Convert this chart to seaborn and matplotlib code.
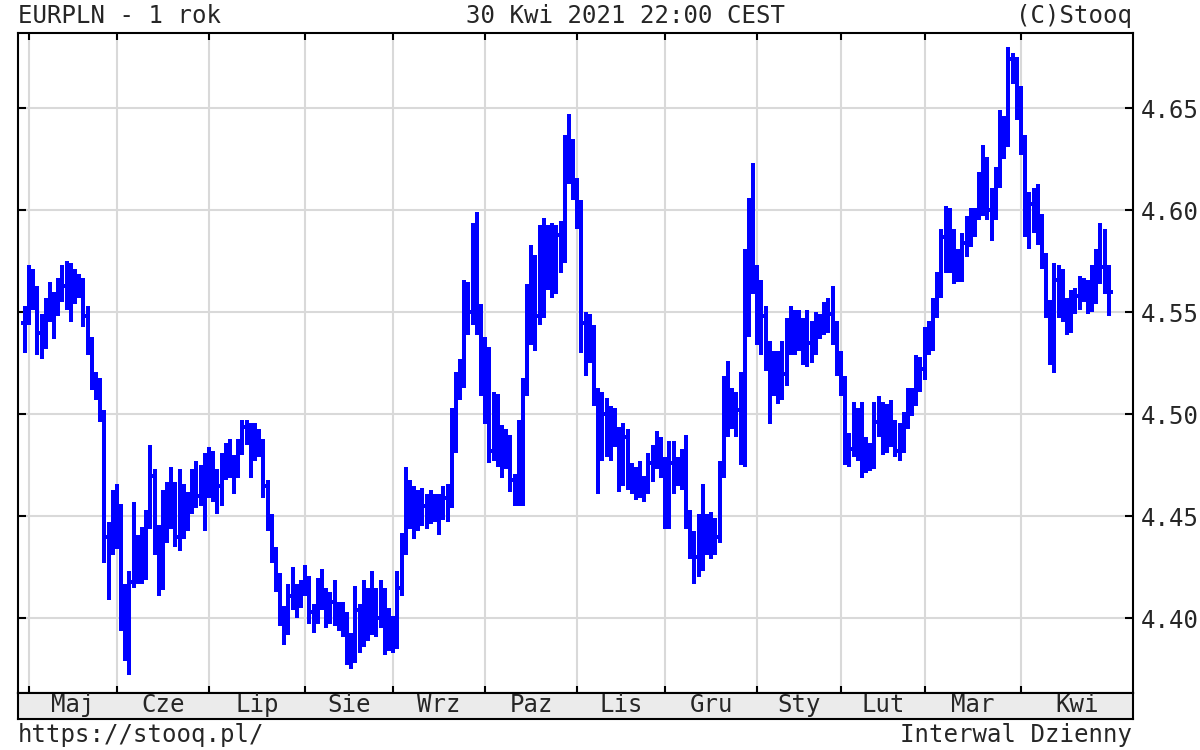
import numpy as np
import pandas as pd
import matplotlib
matplotlib.use("Agg")
import matplotlib.pyplot as plt
import seaborn as sns

# EURPLN, notowania dzienne 30.04.2020 - 30.04.2021
close = [
    4.545,
    # maj
    4.566, 4.560, 4.540, 4.537, 4.551, 4.551, 4.555, 4.561, 4.563, 4.560, 4.562,
    4.565, 4.565, 4.548, 4.535, 4.517, 4.512, 4.500, 4.440, 4.435, 4.458,
    # czerwiec
    4.445, 4.400, 4.390, 4.418, 4.425, 4.422, 4.425, 4.447, 4.470, 4.440, 4.418,
    4.450, 4.452, 4.462, 4.440, 4.456, 4.450, 4.456, 4.465, 4.460, 4.470, 4.468,
    # lipiec
    4.472, 4.470, 4.465, 4.474, 4.477, 4.476, 4.471, 4.483, 4.494, 4.493, 4.483,
    4.485, 4.486, 4.465, 4.448, 4.432, 4.419, 4.403, 4.395, 4.411, 4.411, 4.411, 4.415,
    # sierpien
    4.419, 4.403, 4.400, 4.415, 4.411, 4.403, 4.408, 4.403, 4.403, 4.400, 4.386,
    4.381, 4.404, 4.390, 4.412, 4.395, 4.412, 4.400, 4.412, 4.388, 4.398,
    # wrzesien
    4.388, 4.415, 4.437, 4.454, 4.460, 4.454, 4.455, 4.455, 4.457, 4.457, 4.456,
    4.455, 4.459, 4.460, 4.495, 4.514, 4.520, 4.553, 4.550, 4.586, 4.545, 4.530,
    # pazdziernik
    4.530, 4.482, 4.506, 4.490, 4.483, 4.486, 4.468, 4.459, 4.458, 4.513, 4.548,
    4.575, 4.548, 4.565, 4.567, 4.570, 4.570, 4.588, 4.576, 4.633, 4.630, 4.612,
    # listopad
    4.603, 4.545, 4.530, 4.540, 4.510, 4.480, 4.500, 4.500, 4.490, 4.490, 4.470,
    4.489, 4.470, 4.468, 4.468, 4.466, 4.465, 4.476, 4.476, 4.486, 4.476,
    # grudzien
    4.450, 4.476, 4.469, 4.470, 4.474, 4.450, 4.440, 4.430, 4.428, 4.440, 4.440,
    4.440, 4.440, 4.472, 4.505, 4.500, 4.505, 4.502, 4.517, 4.571, 4.580, 4.565,
    # styczen
    4.545, 4.548, 4.528, 4.515, 4.520, 4.510, 4.520, 4.541, 4.538, 4.535,
    4.541, 4.532, 4.535, 4.536, 4.544, 4.544, 4.549, 4.549, 4.541, 4.525,
    # luty
    4.517, 4.483, 4.483, 4.497, 4.486, 4.477, 4.480, 4.475, 4.496, 4.505,
    4.486, 4.502, 4.492, 4.482, 4.490, 4.496, 4.509, 4.509, 4.522, 4.522,
    # marzec
    4.535, 4.541, 4.553, 4.562, 4.587, 4.580, 4.584, 4.576, 4.570, 4.584, 4.590,
    4.593, 4.598, 4.610, 4.620, 4.600, 4.598, 4.616, 4.641, 4.636, 4.674, 4.672, 4.655,
    # kwiecien
    4.633, 4.593, 4.603, 4.594, 4.591, 4.575, 4.552, 4.530, 4.566, 4.566, 4.550,
    4.543, 4.556, 4.558, 4.563, 4.562, 4.552, 4.569, 4.577, 4.572, 4.569, 4.560,
]

high = [
    4.552,
    4.572, 4.570, 4.562, 4.548, 4.556, 4.564, 4.559, 4.566, 4.572, 4.574, 4.573,
    4.570, 4.568, 4.566, 4.552, 4.537, 4.520, 4.517, 4.501, 4.446, 4.462,
    4.465, 4.455, 4.416, 4.422, 4.456, 4.440, 4.444, 4.452, 4.484, 4.472, 4.445,
    4.462, 4.466, 4.473, 4.466, 4.472, 4.465, 4.461, 4.472, 4.476, 4.474, 4.480,
    4.483, 4.481, 4.472, 4.480, 4.485, 4.487, 4.479, 4.487, 4.496, 4.496, 4.495,
    4.495, 4.492, 4.487, 4.467, 4.450, 4.434, 4.421, 4.405, 4.416, 4.424, 4.416, 4.418,
    4.425, 4.420, 4.406, 4.419, 4.423, 4.414, 4.412, 4.418, 4.407, 4.407, 4.402,
    4.392, 4.415, 4.406, 4.418, 4.414, 4.422, 4.414, 4.418, 4.414, 4.404,
    4.400, 4.422, 4.441, 4.473, 4.467, 4.464, 4.462, 4.463, 4.460, 4.462, 4.460,
    4.460, 4.464, 4.465, 4.502, 4.520, 4.526, 4.565, 4.564, 4.593, 4.598, 4.553,
    4.537, 4.532, 4.510, 4.509, 4.494, 4.492, 4.489, 4.470, 4.496, 4.517, 4.563,
    4.582, 4.577, 4.592, 4.595, 4.592, 4.593, 4.592, 4.594, 4.636, 4.646, 4.634,
    4.615, 4.604, 4.549, 4.548, 4.543, 4.512, 4.510, 4.507, 4.503, 4.502, 4.493,
    4.495, 4.492, 4.475, 4.473, 4.476, 4.469, 4.480, 4.484, 4.491, 4.488,
    4.478, 4.486, 4.486, 4.478, 4.482, 4.489, 4.452, 4.442, 4.450, 4.465, 4.450,
    4.451, 4.448, 4.476, 4.518, 4.525, 4.512, 4.510, 4.520, 4.580, 4.605, 4.622,
    4.572, 4.565, 4.552, 4.535, 4.530, 4.530, 4.535, 4.546, 4.552, 4.550,
    4.550, 4.546, 4.550, 4.545, 4.549, 4.548, 4.554, 4.556, 4.562, 4.545,
    4.530, 4.518, 4.490, 4.505, 4.502, 4.505, 4.488, 4.485, 4.505, 4.508,
    4.505, 4.504, 4.506, 4.496, 4.495, 4.500, 4.512, 4.512, 4.528, 4.527,
    4.542, 4.545, 4.556, 4.569, 4.590, 4.601, 4.600, 4.590, 4.580, 4.588, 4.596,
    4.600, 4.600, 4.618, 4.631, 4.625, 4.610, 4.620, 4.648, 4.645, 4.679, 4.676, 4.674,
    4.660, 4.636, 4.608, 4.610, 4.612, 4.597, 4.578, 4.555, 4.573, 4.572, 4.570,
    4.556, 4.560, 4.561, 4.567, 4.566, 4.565, 4.572, 4.580, 4.593, 4.590, 4.572,
]

low = [
    4.531,
    4.545, 4.552, 4.530, 4.528, 4.533, 4.546, 4.538, 4.549, 4.556, 4.552, 4.546,
    4.555, 4.558, 4.544, 4.530, 4.513, 4.508, 4.497, 4.428, 4.410, 4.432,
    4.435, 4.395, 4.380, 4.373, 4.416, 4.418, 4.418, 4.420, 4.445, 4.432, 4.412,
    4.415, 4.438, 4.445, 4.436, 4.434, 4.440, 4.444, 4.452, 4.455, 4.456, 4.444,
    4.460, 4.458, 4.452, 4.456, 4.469, 4.470, 4.462, 4.470, 4.481, 4.486, 4.470,
    4.478, 4.480, 4.460, 4.444, 4.428, 4.414, 4.397, 4.388, 4.393, 4.405, 4.401, 4.406,
    4.412, 4.398, 4.394, 4.398, 4.405, 4.396, 4.398, 4.397, 4.395, 4.392, 4.378,
    4.376, 4.379, 4.384, 4.387, 4.390, 4.393, 4.392, 4.396, 4.383, 4.385,
    4.384, 4.386, 4.412, 4.432, 4.445, 4.440, 4.444, 4.446, 4.445, 4.447, 4.448,
    4.442, 4.449, 4.448, 4.455, 4.482, 4.508, 4.514, 4.540, 4.545, 4.540, 4.510,
    4.496, 4.477, 4.478, 4.475, 4.470, 4.474, 4.463, 4.456, 4.456, 4.456, 4.510,
    4.535, 4.532, 4.545, 4.548, 4.562, 4.558, 4.560, 4.570, 4.575, 4.614, 4.606,
    4.592, 4.531, 4.520, 4.526, 4.505, 4.462, 4.478, 4.480, 4.478, 4.485, 4.463,
    4.466, 4.464, 4.462, 4.459, 4.460, 4.458, 4.462, 4.468, 4.474, 4.470,
    4.445, 4.445, 4.462, 4.466, 4.464, 4.445, 4.430, 4.418, 4.421, 4.424, 4.432,
    4.430, 4.432, 4.438, 4.470, 4.490, 4.494, 4.490, 4.476, 4.475, 4.539, 4.560,
    4.535, 4.530, 4.522, 4.496, 4.510, 4.506, 4.508, 4.515, 4.530, 4.530,
    4.532, 4.525, 4.524, 4.526, 4.530, 4.538, 4.540, 4.541, 4.535, 4.520,
    4.510, 4.476, 4.475, 4.480, 4.478, 4.470, 4.472, 4.473, 4.474, 4.490,
    4.481, 4.482, 4.485, 4.480, 4.478, 4.482, 4.494, 4.500, 4.505, 4.512,
    4.518, 4.530, 4.532, 4.548, 4.558, 4.570, 4.570, 4.565, 4.566, 4.566, 4.578,
    4.583, 4.588, 4.596, 4.598, 4.596, 4.586, 4.596, 4.612, 4.626, 4.632, 4.663, 4.645,
    4.628, 4.588, 4.582, 4.590, 4.584, 4.572, 4.548, 4.525, 4.521, 4.548, 4.546,
    4.540, 4.541, 4.550, 4.552, 4.556, 4.550, 4.551, 4.555, 4.565, 4.560, 4.549,
]

month_labels = ["Maj", "Cze", "Lip", "Sie", "Wrz", "Paz",
                "Lis", "Gru", "Sty", "Lut", "Mar", "Kwi"]
y_ticks = [4.40, 4.45, 4.50, 4.55, 4.60, 4.65]

# sesje: dni robocze bez 25.12.2020 i 01.01.2021
dates = pd.bdate_range("2020-04-30", "2021-04-30")
dates = dates[~dates.isin(pd.to_datetime(["2020-12-25", "2021-01-01"]))]

df = pd.DataFrame({"day": np.arange(len(dates)), "close": close,
                   "high": high, "low": low})
df["open"] = df["close"].shift(1).fillna(df["close"])
month_start = np.flatnonzero(dates.month != np.roll(dates.month, 1))

sns.set_style("white")
plt.rcParams["font.family"] = ["DejaVu Sans Mono"]

blue = "#0000ff"
grid = "#d9d9d9"
lw = 1.45
fs = 17.3
W, H = 1200, 750
left, right, top, bottom = 17.7, 1132.7, 33, 693

fig = plt.figure(figsize=(12, 7.5), dpi=100)
ax = fig.add_axes([left / W, 1 - bottom / H, (right - left) / W, (bottom - top) / H])
strip = fig.add_axes([left / W, 1 - 718.5 / H, (right - left) / W, 25.5 / H], sharex=ax)

# slupki OHLC: high-low, open z lewej, close z prawej
bar_kw = dict(color=blue, lw=lw, zorder=3, antialiased=False, capstyle="projecting")
ax.vlines(df["day"], df["low"], df["high"], **bar_kw)
ax.hlines(df["open"], df["day"] - 0.55, df["day"], **bar_kw)
ax.hlines(df["close"], df["day"], df["day"] + 0.55, **bar_kw)

ax.set_xlim(-1.7, 264.7)
ax.set_ylim(4.3634, 4.6869)
ax.set_xticks(month_start)
ax.set_yticks(y_ticks)
ax.set_yticklabels([f"{v:.2f}" for v in y_ticks], fontsize=fs)
ax.set_axisbelow(True)
ax.grid(True, color=grid, lw=1.5)
ax.tick_params(axis="x", which="both", top=True, bottom=True, labelbottom=False,
               direction="in", length=5, width=1.5, color="black")
ax.tick_params(axis="y", which="both", left=True, right=True, labelleft=False,
               labelright=True, direction="in", length=5.5, width=1.5,
               color="black", pad=6)
for s in ax.spines.values():
    s.set_visible(True)
    s.set_color("black")
    s.set_linewidth(1.5)

# pasek z miesiacami
strip.set_facecolor("#ebebeb")
strip.set_ylim(0, 1)
strip.tick_params(left=False, bottom=False, labelleft=False, labelbottom=False)
for s in strip.spines.values():
    s.set_visible(True)
    s.set_color("black")
    s.set_linewidth(1.5)
edges = list(month_start) + [264.7]
for i, lab in enumerate(month_labels):
    strip.text((edges[i] + edges[i + 1]) / 2, 0.25, lab, ha="center",
               va="baseline", fontsize=fs)

fig.text(18 / W, 1 - 22.7 / H, "EURPLN - 1 rok", ha="left", va="baseline", fontsize=fs)
fig.text(626 / W, 1 - 22.7 / H, "30 Kwi 2021 22:00 CEST", ha="center",
         va="baseline", fontsize=fs)
fig.text(1132 / W, 1 - 22.7 / H, "(C)Stooq", ha="right", va="baseline", fontsize=fs)
fig.text(18 / W, 1 - 741.7 / H, "https://stooq.pl/", ha="left", va="baseline", fontsize=fs)
fig.text(1132 / W, 1 - 741.7 / H, "Interwal Dzienny", ha="right", va="baseline",
         fontsize=fs)

fig.savefig("out.png", dpi=100)
